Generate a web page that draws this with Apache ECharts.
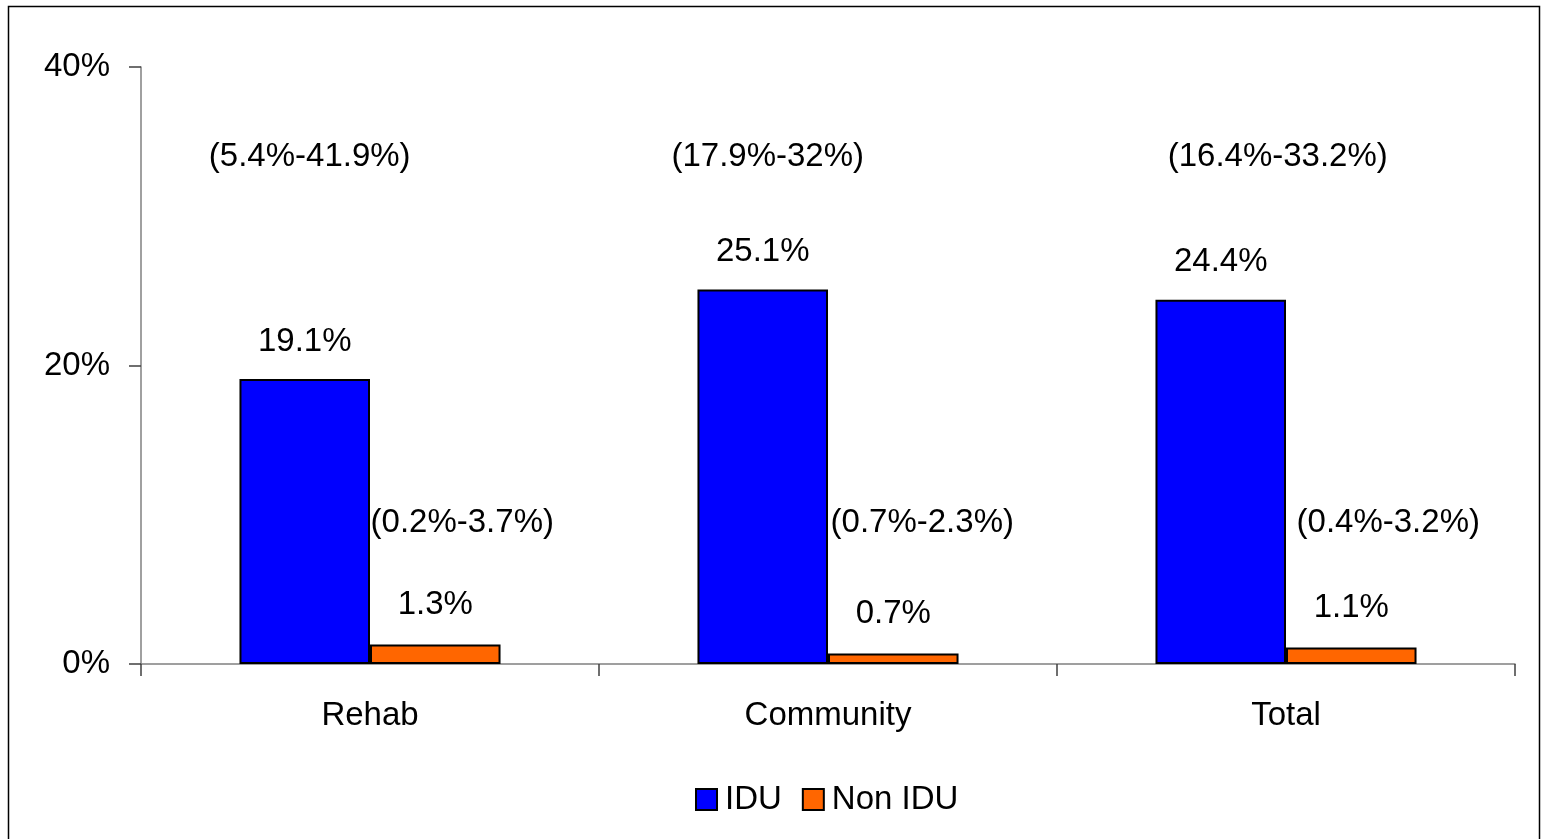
<!DOCTYPE html>
<html>
<head>
<meta charset="utf-8">
<script src="https://cdn.jsdelivr.net/npm/echarts@6/dist/echarts.min.js"></script>
<style>
html,body{margin:0;padding:0;background:#fff;}
#chart{width:1543px;height:839px;}
</style>
</head>
<body>
<div id="chart"></div>
<script>
const categories = ['Rehab', 'Community', 'Total'];
const seriesNames = ['IDU', 'Non IDU'];
const iduValues = [19.1, 25.1, 24.4];
const nonIduValues = [1.3, 0.7, 1.1];
const iduRanges = ['(5.4%-41.9%)', '(17.9%-32%)', '(16.4%-33.2%)'];
const nonIduRanges = ['(0.2%-3.7%)', '(0.7%-2.3%)', '(0.4%-3.2%)'];
const iduRangeLabelLevel = 34.0;
const nonIduRangeLabelLevel = 9.45;
const yTicks = [0, 20, 40];

const FONT = '"Liberation Sans", Arial, sans-serif';
const FS = 33;
const iduShift = [5, 5, 57];
const nonIduShift = [27, 29, 37];

function rangeMarks(ranges, level, shifts) {
  return ranges.map((txt, i) => ({
    name: txt,
    coord: [i, level],
    label: { offset: [shifts[i], 0] }
  }));
}

const chart = echarts.init(document.getElementById('chart'), null, { renderer: 'canvas' });
chart.setOption({
  backgroundColor: '#fff',
  animation: false,
  graphic: [{
    type: 'rect',
    shape: { x: 8.5, y: 6.5, width: 1531, height: 850 },
    style: { fill: 'none', stroke: '#000', lineWidth: 1.5 },
    silent: true
  }],
  grid: { left: 141, right: 28, top: 67, bottom: 175, containLabel: false },
  legend: {
    bottom: 18,
    left: 690,
    itemWidth: 21,
    itemHeight: 21,
    itemGap: 20,
    icon: 'rect',
    textStyle: { fontFamily: FONT, fontSize: FS, color: '#000', padding: [0, 0, 0, 3] },
    data: seriesNames
  },
  xAxis: {
    type: 'category',
    data: categories,
    axisLine: { lineStyle: { color: '#808080', width: 1.5 } },
    axisTick: { show: true, length: 12, lineStyle: { color: '#404040', width: 1.5 } },
    axisLabel: { fontFamily: FONT, fontSize: FS, color: '#000', margin: 35 }
  },
  yAxis: {
    type: 'value',
    min: 0, max: 40, interval: 20,
    axisLine: { show: true, lineStyle: { color: '#808080', width: 1.5 } },
    axisTick: { show: true, length: 12, lineStyle: { color: '#404040', width: 1.5 } },
    splitLine: { show: false },
    axisLabel: {
      fontFamily: FONT, fontSize: FS, color: '#000', margin: 31,
      formatter: v => (yTicks.includes(v) ? v + '%' : '')
    }
  },
  series: [
    {
      name: seriesNames[0],
      type: 'bar',
      data: iduValues,
      barGap: '0%',
      barCategoryGap: '43%',
      itemStyle: { color: '#0000FF', borderColor: '#000', borderWidth: 2 },
      label: {
        show: true, position: 'top', distance: 21,
        fontFamily: FONT, fontSize: FS, color: '#000',
        formatter: p => p.value + '%'
      },
      markPoint: {
        symbol: 'circle', symbolSize: 0,
        itemStyle: { color: 'transparent' },
        label: {
          show: true, position: 'inside',
          fontFamily: FONT, fontSize: FS, color: '#000',
          formatter: p => p.name
        },
        data: rangeMarks(iduRanges, iduRangeLabelLevel, iduShift)
      }
    },
    {
      name: seriesNames[1],
      type: 'bar',
      data: nonIduValues,
      barGap: '0%',
      barCategoryGap: '43%',
      itemStyle: { color: '#FF6600', borderColor: '#000', borderWidth: 2 },
      label: {
        show: true, position: 'top', distance: 23,
        fontFamily: FONT, fontSize: FS, color: '#000',
        formatter: p => p.value + '%'
      },
      markPoint: {
        symbol: 'circle', symbolSize: 0,
        itemStyle: { color: 'transparent' },
        label: {
          show: true, position: 'inside',
          fontFamily: FONT, fontSize: FS, color: '#000',
          formatter: p => p.name
        },
        data: rangeMarks(nonIduRanges, nonIduRangeLabelLevel, nonIduShift)
      }
    }
  ]
});
</script>
</body>
</html>
